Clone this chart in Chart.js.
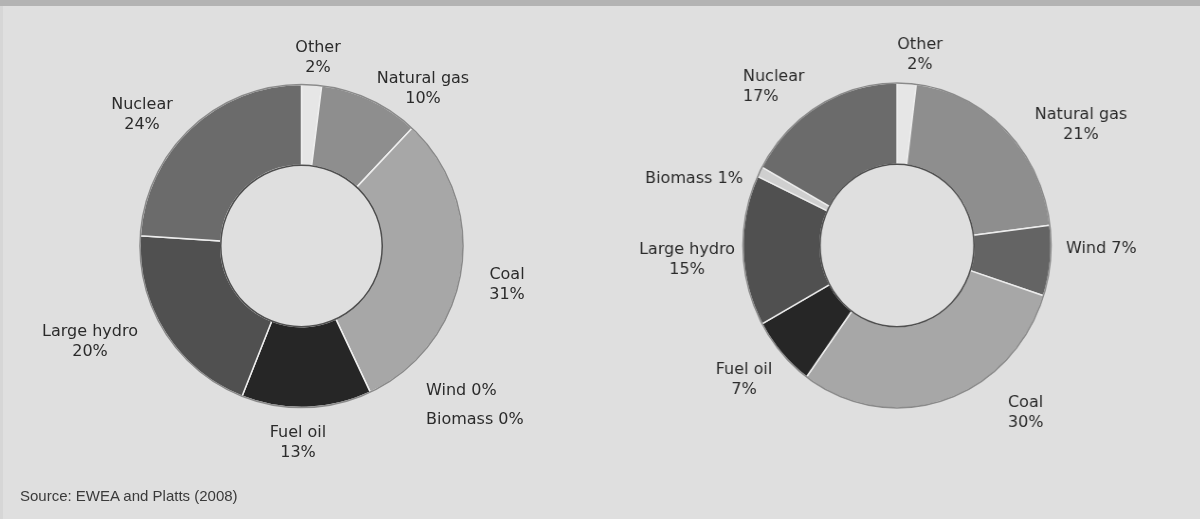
<!DOCTYPE html>
<html>
<head>
<meta charset="utf-8">
<script src="https://cdn.jsdelivr.net/npm/chart.js@4.4.0/dist/chart.umd.min.js"></script>
<style>
  html, body { margin: 0; padding: 0; }
  body { width: 1200px; height: 519px; background: #dfdfdf; position: relative; overflow: hidden; }
  #topbar { position: absolute; left: 0; top: 0; width: 1200px; height: 6px; background: #b3b3b3; }
  #edge { position: absolute; left: 0; top: 6px; width: 3px; height: 513px; background: #d6d6d6; }
  canvas { position: absolute; left: 0; top: 0; }
  #right-chart { transform: scaleX(0.948); transform-origin: 897px 0; }
  #source { position: absolute; left: 20px; top: 487px; font: 15px "Liberation Sans", Arial, sans-serif; color: #3a3a3a; }
</style>
</head>
<body>
<div id="topbar"></div>
<div id="edge"></div>
<canvas id="left-chart" width="1200" height="519"></canvas>
<canvas id="right-chart" width="1200" height="519"></canvas>
<div id="source">Source: EWEA and Platts (2008)</div>

<script>
// Left chart (clockwise from 12 o'clock)
const leftLabels = ['Other', 'Natural gas', 'Coal', 'Wind', 'Biomass', 'Fuel oil', 'Large hydro', 'Nuclear'];
const leftValues = [2, 10, 31, 0, 0, 13, 20, 24];

// Right chart (clockwise from 12 o'clock)
const rightLabels = ['Other', 'Natural gas', 'Wind', 'Coal', 'Fuel oil', 'Large hydro', 'Biomass', 'Nuclear'];
const rightValues = [2, 21, 7, 30, 7, 15, 1, 17];

const colorOf = {
  'Other': '#e6e6e6',
  'Natural gas': '#8e8e8e',
  'Coal': '#a7a7a7',
  'Wind': '#646464',
  'Biomass': '#cfcfcf',
  'Fuel oil': '#262626',
  'Large hydro': '#505050',
  'Nuclear': '#6b6b6b'
};

// label placement relative to the ring centre
const leftLayout = {
  'Other':       { dx: 16.5,   dy: -198, align: 'center' },
  'Natural gas': { dx: 121.5,  dy: -167, align: 'center' },
  'Coal':        { dx: 205.5,  dy: 29,   align: 'center' },
  'Wind':        { dx: 124.5,  dy: 145,  align: 'left', oneLine: true },
  'Biomass':     { dx: 124.5,  dy: 174,  align: 'left', oneLine: true },
  'Fuel oil':    { dx: -3.5,   dy: 187,  align: 'center' },
  'Large hydro': { dx: -211.5, dy: 86,   align: 'center' },
  'Nuclear':     { dx: -159.5, dy: -141, align: 'center' }
};
const rightLayout = {
  'Other':       { dx: 23,   dy: -200.5, align: 'center' },
  'Natural gas': { dx: 184,  dy: -130.5, align: 'center' },
  'Wind':        { dx: 169,  dy: 3.5,    align: 'left', oneLine: true },
  'Coal':        { dx: 111,  dy: 157.5,  align: 'left' },
  'Fuel oil':    { dx: -153, dy: 124.5,  align: 'center' },
  'Large hydro': { dx: -210, dy: 4.5,    align: 'center' },
  'Biomass':     { dx: -203, dy: -66.5,  align: 'center', oneLine: true },
  'Nuclear':     { dx: -154, dy: -168.5, align: 'left' }
};

const rimPlugin = {
  id: 'rim',
  afterDatasetsDraw(chart) {
    const arc = chart.getDatasetMeta(0).data[0];
    const ctx = chart.ctx;
    ctx.save();
    ctx.lineWidth = 1.6;
    ctx.strokeStyle = '#8a8a8a';
    ctx.beginPath();
    ctx.arc(arc.x, arc.y, arc.outerRadius, 0, Math.PI * 2);
    ctx.stroke();
    ctx.strokeStyle = '#4f4f4f';
    ctx.beginPath();
    ctx.arc(arc.x, arc.y, arc.innerRadius, 0, Math.PI * 2);
    ctx.stroke();
    ctx.restore();
  }
};

const labelPlugin = {
  id: 'sliceLabels',
  afterDraw(chart, args, opts) {
    const arc = chart.getDatasetMeta(0).data[0];
    const ctx = chart.ctx;
    const sx = opts.scaleX || 1;
    const labels = chart.data.labels;
    const values = chart.data.datasets[0].data;
    ctx.save();
    ctx.font = '16px "DejaVu Sans", sans-serif';
    ctx.fillStyle = '#2b2b2b';
    ctx.textBaseline = 'middle';
    labels.forEach((name, i) => {
      const pos = opts.layout[name];
      const lines = pos.oneLine ? [`${name} ${values[i]}%`] : [name, `${values[i]}%`];
      ctx.textAlign = pos.align;
      lines.forEach((line, j) => {
        ctx.save();
        ctx.translate(arc.x + pos.dx / sx, arc.y + pos.dy + j * 20);
        ctx.scale(1 / sx, 1);
        ctx.fillText(line, 0, 0);
        ctx.restore();
      });
    });
    ctx.restore();
  }
};

function makeRing(canvasId, labels, values, layout, radius, padding, scaleX) {
  return new Chart(document.getElementById(canvasId), {
    type: 'doughnut',
    data: {
      labels: labels,
      datasets: [{
        data: values,
        backgroundColor: labels.map(l => colorOf[l]),
        borderColor: '#ededed',
        borderWidth: 1.5,
        radius: radius
      }]
    },
    options: {
      responsive: false,
      animation: false,
      events: [],
      cutout: '50%',
      layout: { padding: padding },
      plugins: {
        legend: { display: false },
        tooltip: { enabled: false },
        sliceLabels: { layout: layout, scaleX: scaleX }
      }
    },
    plugins: [rimPlugin, labelPlugin]
  });
}

makeRing('left-chart', leftLabels, leftValues, leftLayout, 161.5,
  { left: 0, right: 597, top: 0, bottom: 27 }, 1);
makeRing('right-chart', rightLabels, rightValues, rightLayout, 162.5,
  { left: 594, right: 0, top: 0, bottom: 28 }, 0.948);
</script>
</body>
</html>
